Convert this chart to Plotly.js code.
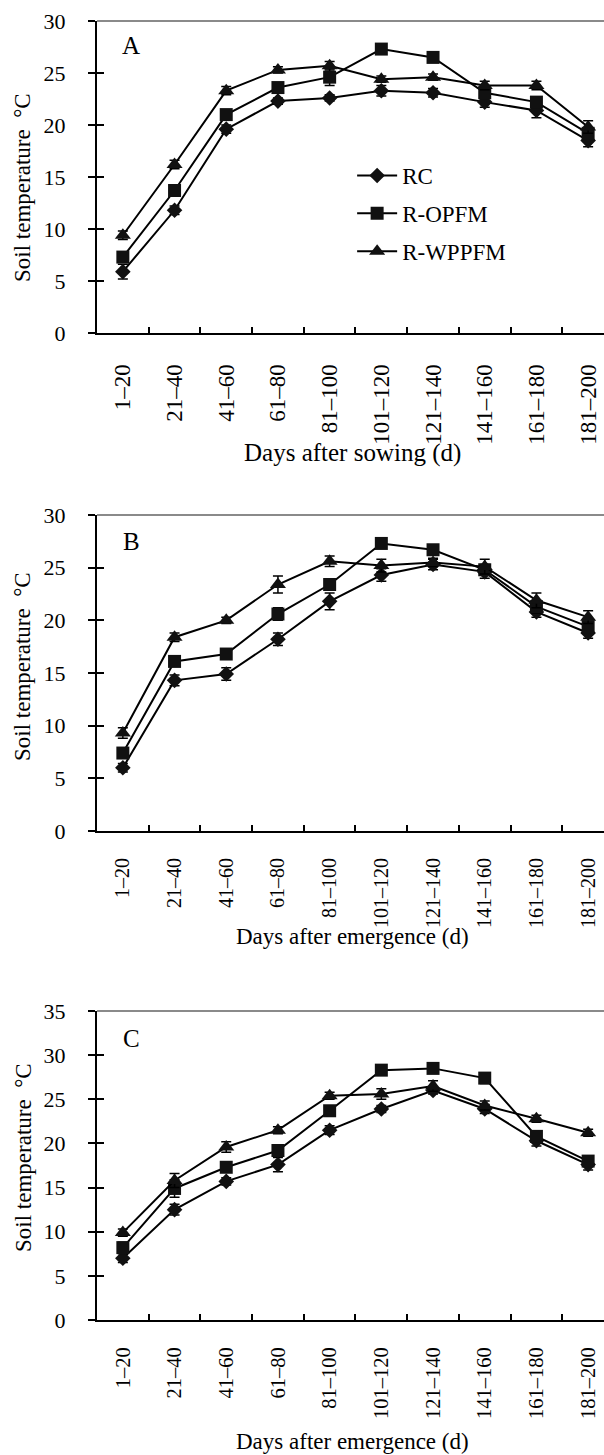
<!DOCTYPE html>
<html>
<head>
<meta charset="utf-8">
<script src="https://cdn.plot.ly/plotly-3.0.1.min.js"></script>
<style>html,body{margin:0;padding:0;background:#fff;}#chart{width:604px;height:1455px;}</style>
</head>
<body>
<div id="chart"></div>
<script>
// ---- data ----
const periods = ["1–20","21–40","41–60","61–80","81–100","101–120","121–140","141–160","161–180","181–200"];
const seriesNames = ["RC","R-OPFM","R-WPPFM"];

// Panel A: days after sowing
const A_RC      = [5.9, 11.8, 19.6, 22.3, 22.6, 23.3, 23.1, 22.2, 21.4, 18.5];
const A_RC_err  = [0.7, 0.4, 0.4, 0.3, 0.3, 0.5, 0.4, 0.5, 0.7, 0.6];
const A_OPFM    = [7.3, 13.7, 21.0, 23.6, 24.6, 27.3, 26.5, 23.1, 22.2, 19.2];
const A_OPFM_err= [0.5, 0.4, 0.4, 0.4, 0.8, 0.5, 0.4, 0.4, 0.5, 0.4];
const A_WPPFM   = [9.4, 16.2, 23.3, 25.3, 25.7, 24.4, 24.6, 23.8, 23.8, 19.8];
const A_WPPFM_err=[0.4, 0.4, 0.4, 0.3, 0.4, 0.3, 0.3, 0.4, 0.4, 0.6];

// Panel B: days after emergence
const B_RC      = [6.0, 14.3, 14.9, 18.2, 21.8, 24.3, 25.3, 24.6, 20.8, 18.8];
const B_RC_err  = [0.4, 0.5, 0.6, 0.6, 0.8, 0.6, 0.5, 0.6, 0.5, 0.5];
const B_OPFM    = [7.4, 16.1, 16.8, 20.6, 23.4, 27.3, 26.7, 24.8, 21.3, 19.4];
const B_OPFM_err= [0.4, 0.4, 0.4, 0.6, 0.5, 0.3, 0.3, 0.5, 0.6, 0.5];
const B_WPPFM   = [9.3, 18.4, 20.0, 23.4, 25.6, 25.2, 25.5, 25.1, 21.9, 20.3];
const B_WPPFM_err=[0.5, 0.4, 0.3, 0.8, 0.5, 0.6, 0.4, 0.7, 0.7, 0.6];

// Panel C: days after emergence
const C_RC      = [7.0, 12.5, 15.7, 17.6, 21.5, 23.9, 26.0, 23.9, 20.3, 17.6];
const C_RC_err  = [0.5, 0.6, 0.4, 0.8, 0.5, 0.4, 0.4, 0.5, 0.6, 0.6];
const C_OPFM    = [8.2, 14.9, 17.3, 19.2, 23.7, 28.3, 28.5, 27.4, 20.8, 18.0];
const C_OPFM_err= [0.6, 1.0, 0.4, 0.5, 0.4, 0.5, 0.4, 0.6, 0.5, 0.4];
const C_WPPFM   = [9.9, 15.8, 19.6, 21.5, 25.4, 25.6, 26.5, 24.3, 22.8, 21.2];
const C_WPPFM_err=[0.4, 0.8, 0.6, 0.4, 0.4, 0.6, 0.6, 0.5, 0.4, 0.4];

const panelLabels = ["A","B","C"];
const xTitles = ["Days after sowing (d)","Days after emergence (d)","Days after emergence (d)"];
const yTitle = "Soil temperature  °C";

// ---- build ----
const W = 604, H = 1455;
const FONT = "'Liberation Serif', 'Times New Roman', Times, serif";
const symbols = ["diamond","square","triangle-up"];
const msizes = [12, 13, 14];
const panels = [
  {vals:[A_RC,A_OPFM,A_WPPFM], errs:[A_RC_err,A_OPFM_err,A_WPPFM_err], top:21, bot:333, ymax:30, xfs:23, xstand:20, tfs:25},
  {vals:[B_RC,B_OPFM,B_WPPFM], errs:[B_RC_err,B_OPFM_err,B_WPPFM_err], top:515, bot:831, ymax:30, xfs:20, xstand:17, tfs:23},
  {vals:[C_RC,C_OPFM,C_WPPFM], errs:[C_RC_err,C_OPFM_err,C_WPPFM_err], top:1011, bot:1320, ymax:35, xfs:20.5, xstand:17, tfs:23}
];
const xTitleY = [453, 936, 1441];
const yTitleY = [188, 667, 1158];
const labelY = [45, 541, 1038];

const traces = [];
const layout = {
  width: W, height: H,
  margin: {l:0, r:0, t:0, b:0},
  paper_bgcolor: "#fff", plot_bgcolor: "#fff",
  font: {family: FONT, color: "#000", size: 21},
  showlegend: true,
  legend: {x: 0.583, y: 1 - 154/H, xanchor: "left", yanchor: "top",
           font: {family: FONT, size: 23, color: "#000"},
           bgcolor: "rgba(0,0,0,0)", borderwidth: 0, tracegroupgap: 5, traceorder: "grouped",
           itemwidth: 40},
  shapes: [], annotations: []
};

panels.forEach((p, i) => {
  const n = i + 1;
  const xa = n === 1 ? "x" : "x" + n;
  const ya = n === 1 ? "y" : "y" + n;
  const xk = n === 1 ? "xaxis" : "xaxis" + n;
  const yk = n === 1 ? "yaxis" : "yaxis" + n;
  const dom = [1 - p.bot / H, 1 - p.top / H];
  p.vals.forEach((v, s) => {
    traces.push({
      type: "scatter", mode: "lines+markers",
      x: periods, y: v, xaxis: xa, yaxis: ya,
      name: seriesNames[s], legendgroup: seriesNames[s],
      showlegend: i === 0,
      line: {color: "#000", width: 2},
      marker: {symbol: symbols[s], size: msizes[s], color: "#111"},
      error_y: {type: "data", array: p.errs[s], visible: true, color: "#000", thickness: 1.5, width: 5},
      cliponaxis: false
    });
  });
  layout[xk] = {
    domain: [97 / W, 1], anchor: ya, type: "category",
    categoryorder: "array", categoryarray: periods,
    range: [-0.5, 9.307],
    showline: true, linecolor: "#000", linewidth: 2,
    ticks: "inside", tickson: "boundaries", ticklen: 6, tickwidth: 2, tickcolor: "#000",
    tickangle: -90, ticklabelstandoff: p.xstand,
    tickfont: {family: FONT, size: p.xfs, color: "#000"},
    showgrid: false, zeroline: false, fixedrange: true
  };
  layout[yk] = {
    domain: dom, anchor: xa, range: [0, p.ymax], dtick: 5, tick0: 0,
    showline: true, linecolor: "#000", linewidth: 2,
    ticks: "outside", ticklen: 7, tickwidth: 2, tickcolor: "#000",
    ticklabelstandoff: 18,
    tickfont: {family: FONT, size: 22, color: "#000"},
    showgrid: false, zeroline: false, fixedrange: true
  };
  // inside half of the crossing y ticks
  const yk2 = "yaxis" + (n + 3);
  layout[yk2] = {
    overlaying: ya, anchor: xa, range: [0, p.ymax], dtick: 5, tick0: 0,
    showline: false, ticks: "inside", ticklen: 7, tickwidth: 2, tickcolor: "#000",
    showticklabels: false, showgrid: false, zeroline: false, fixedrange: true
  };
  traces.push({type: "scatter", x: [], y: [], xaxis: xa, yaxis: "y" + (n + 3), showlegend: false, hoverinfo: "skip"});
  // gray top frame line
  layout.shapes.push({type: "line", xref: xa + " domain", yref: ya + " domain",
    x0: 0, x1: 1, y0: 1, y1: 1, line: {color: "#8a8a8a", width: 2}});
  // panel letter
  layout.annotations.push({text: panelLabels[i], xref: "paper", yref: "paper",
    x: 131 / W, y: 1 - labelY[i] / H, xanchor: "center", yanchor: "middle", showarrow: false,
    font: {family: FONT, size: 25, color: "#000"}});
  // x title
  layout.annotations.push({text: xTitles[i], xref: "paper", yref: "paper",
    x: 352 / W, y: 1 - xTitleY[i] / H, xanchor: "center", yanchor: "middle", showarrow: false,
    font: {family: FONT, size: p.tfs, color: "#000"}});
  // y title
  layout.annotations.push({text: yTitle, xref: "paper", yref: "paper", textangle: -90,
    x: 23 / W, y: 1 - yTitleY[i] / H, xanchor: "center", yanchor: "middle", showarrow: false,
    font: {family: FONT, size: 23, color: "#000"}});
});

Plotly.newPlot("chart", traces, layout, {displayModeBar: false, staticPlot: true});
</script>
</body>
</html>
